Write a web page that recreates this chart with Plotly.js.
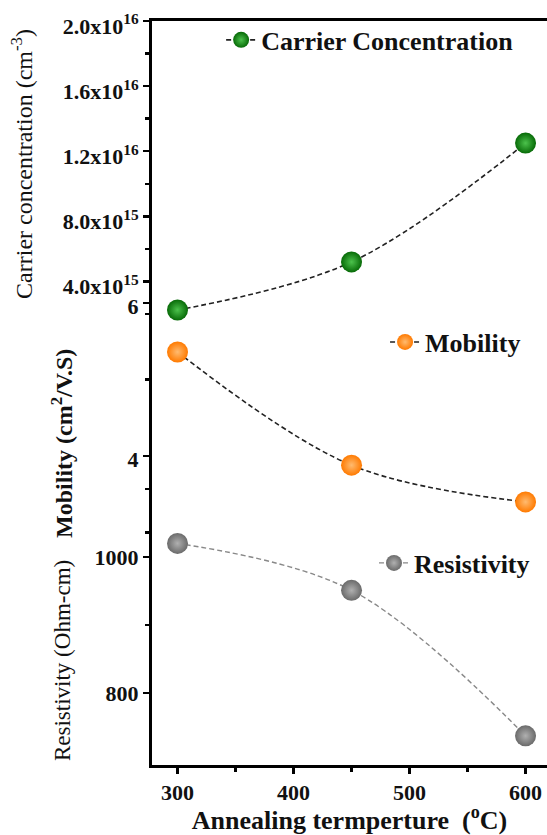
<!DOCTYPE html>
<html>
<head>
<meta charset="utf-8">
<script src="https://cdn.plot.ly/plotly-3.0.1.min.js"></script>
<style>html,body{margin:0;padding:0;background:#fff;}#chart{width:547px;height:835px;}</style>
</head>
<body>
<div id="chart"></div>
<script>
// ---- data ----
const temperature = [300, 450, 600];
const carrierConc = [2.25e15, 5.2e15, 1.25e16];
const mobility = [5.36, 3.88, 3.40];
const resistivity = [1020, 951, 737];

const xTicks = [300, 400, 500, 600];
const xMinor = [350, 450, 550];
const carrierTicks = [4e15, 8e15, 1.2e16, 1.6e16, 2e16];
const carrierTickText = ['4.0x10<sup>15</sup>', '8.0x10<sup>15</sup>', '1.2x10<sup>16</sup>', '1.6x10<sup>16</sup>', '2.0x10<sup>16</sup>'];
const carrierMinor = [2e15, 6e15, 1e16, 1.4e16, 1.8e16];
const mobilityTicks = [4, 6];
const mobilityMinor = [3, 5];
const resistivityTicks = [800, 1000];
const resistivityMinor = [900, 1100];

const serif = 'Liberation Serif, Times New Roman, serif';
const tickFont = {family: serif, size: 22, color: '#111', weight: 'bold'};

function sphere(edge, centre) {
  return {size: 21, color: edge, gradient: {type: 'radial', color: centre}, line: {width: 0}};
}

const traces = [
  {x: temperature, y: carrierConc, yaxis: 'y', type: 'scatter', mode: 'lines+markers',
   name: 'Carrier Concentration', legend: 'legend',
   line: {color: '#222', width: 1.6, dash: '5px,3px', shape: 'spline'},
   marker: sphere('#076a07', '#4cc24c'), cliponaxis: false},
  {x: temperature, y: mobility, yaxis: 'y2', type: 'scatter', mode: 'lines+markers',
   name: 'Mobility', legend: 'legend2',
   line: {color: '#222', width: 1.6, dash: '5px,3px', shape: 'spline'},
   marker: sphere('#ff7a00', '#ffbb70'), cliponaxis: false},
  {x: temperature, y: resistivity, yaxis: 'y3', type: 'scatter', mode: 'lines+markers',
   name: 'Resistivity', legend: 'legend3',
   line: {color: '#888', width: 1.4, dash: '5px,3px', shape: 'spline'},
   marker: sphere('#6a6a6a', '#b0b0b0'), cliponaxis: false}
];

const yCommon = {
  showline: true, linewidth: 3, linecolor: '#000', ticks: 'outside', ticklen: 6, tickwidth: 2.5,
  tickcolor: '#000', showgrid: false, zeroline: false, tickfont: tickFont, tickmode: 'array',
  side: 'left', anchor: 'x'
};

const legendCommon = {
  font: {family: serif, size: 26, color: '#111', weight: 'bold'},
  bgcolor: 'rgba(0,0,0,0)', borderwidth: 0, xanchor: 'left', yanchor: 'middle', itemwidth: 30
};

const layout = {
  width: 547, height: 835,
  margin: {l: 152, r: 0, t: 21, b: 70},
  paper_bgcolor: '#fff', plot_bgcolor: '#fff',
  xaxis: {
    range: [278, 618.5], tickmode: 'array', tickvals: xTicks, ticks: 'outside', ticklen: 6, tickwidth: 2.5,
    tickcolor: '#000', showline: true, linewidth: 3, linecolor: '#000', mirror: true,
    showgrid: false, zeroline: false, tickfont: tickFont,
    minor: {tickmode: 'array', tickvals: xMinor, ticks: 'outside', ticklen: 4, tickwidth: 2.5, tickcolor: '#000', showgrid: false},
    title: {text: 'Annealing termperture  (<sup>o</sup>C)', font: {family: serif, size: 26, color: '#111', weight: 'bold'}, standoff: 3}
  },
  yaxis: Object.assign({}, yCommon, {
    range: [-2.570e16, 2.0e16], tickvals: carrierTicks, ticktext: carrierTickText, ticklabelshift: 5,
    minor: {tickmode: 'array', tickvals: carrierMinor, ticks: 'outside', ticklen: 4, tickwidth: 2.5, tickcolor: '#000', showgrid: false}
  }),
  yaxis2: Object.assign({}, yCommon, {
    overlaying: 'y', range: [-0.039, 9.686], tickvals: mobilityTicks, ticktext: mobilityTicks.map(String), ticklabelshift: 3,
    minor: {tickmode: 'array', tickvals: mobilityMinor, ticks: 'outside', ticklen: 4, tickwidth: 2.5, tickcolor: '#000', showgrid: false}
  }),
  yaxis3: Object.assign({}, yCommon, {
    overlaying: 'y', range: [694.1, 1788.2], tickvals: resistivityTicks, ticktext: resistivityTicks.map(String),
    minor: {tickmode: 'array', tickvals: resistivityMinor, ticks: 'outside', ticklen: 4, tickwidth: 2.5, tickcolor: '#000', showgrid: false}
  }),
  legend: Object.assign({}, legendCommon, {x: 0.175, y: 0.9745}),
  legend2: Object.assign({}, legendCommon, {x: 0.59, y: 0.5685}),
  legend3: Object.assign({}, legendCommon, {x: 0.562, y: 0.2715}),
  annotations: [
    {text: 'Carrier concentration (cm<sup>-3</sup>)', xref: 'paper', yref: 'paper', x: -0.329, y: 0.808,
     textangle: -90, showarrow: false, xanchor: 'center', yanchor: 'middle',
     font: {family: serif, size: 24, color: '#111'}},
    {text: 'Mobility (cm<sup>2</sup>/V.S)', xref: 'paper', yref: 'paper', x: -0.228, y: 0.4328,
     textangle: -90, showarrow: false, xanchor: 'center', yanchor: 'middle',
     font: {family: serif, size: 24, color: '#111', weight: 'bold'}},
    {text: 'Resistivity (Ohm-cm)', xref: 'paper', yref: 'paper', x: -0.228, y: 0.141,
     textangle: -90, showarrow: false, xanchor: 'center', yanchor: 'middle',
     font: {family: serif, size: 23, color: '#111'}}
  ],
  showlegend: true
};

Plotly.newPlot('chart', traces, layout, {displayModeBar: false, staticPlot: true});
</script>
</body>
</html>
